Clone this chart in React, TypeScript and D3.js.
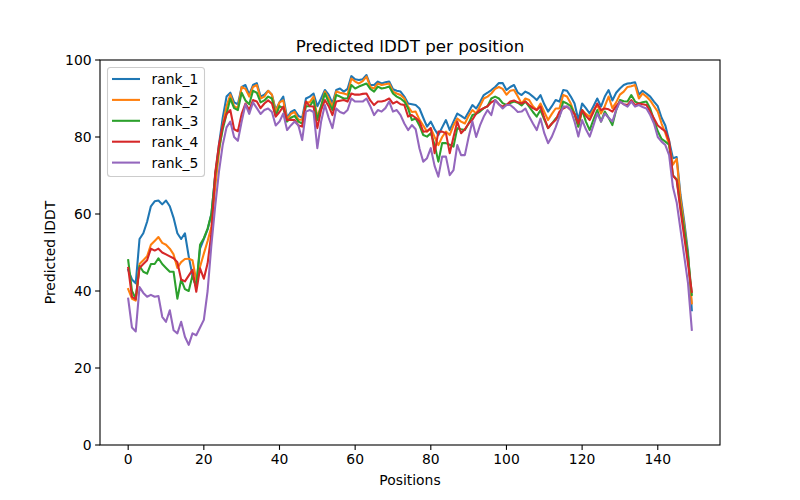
import React from "react";
import * as d3 from "d3";

const seriesNames = ["rank_1", "rank_2", "rank_3", "rank_4", "rank_5"];
const colors = ["#1f77b4", "#ff7f0e", "#2ca02c", "#d62728", "#9467bd"];

const rank1 = [45.5,43,42,53.5,55,58,62,63.3,63.5,62.5,63.5,62,59,55,53.5,55,49,44,41,51,
53.5,56,60,70,78,85,90.5,91.5,89,88.5,93,93.5,91,93.5,94,90.5,91,92,91,87,
89,90.5,85,86.5,87,85.5,85,90,90.5,91.3,88,90,92.2,91,88.7,92.2,92.6,91.8,92.5,95.8,
95,94.8,95,96.1,93.5,93.5,94.4,93.9,94.2,94.4,92.4,92,91.8,90.5,88.7,88.5,88.3,87.4,85,82.7,
84,82,80.5,82.5,84.4,81.8,84,86.1,85.5,84.8,86.5,88.3,87.4,89,90.9,91.5,92.2,93,94,94,
92.2,93,93.5,91.5,90.9,91.8,91.3,90.5,89.6,90.9,88.5,86.6,88,89.6,89.2,92.2,92,90.5,88.7,84.4,
88.7,87.5,86.1,88,90,87.9,90.5,92.2,89.5,91.5,92.6,93.5,93.9,94,94.2,91,92,91.3,90.5,89.2,
88,85,83,79,74.5,74.8,65,58,50,35];

const rank2 = [40.5,38,37.5,47,48,49,52,53,54,52.5,52,51,49.5,46,47.5,48.3,48.4,48,42.8,46.3,
49.7,53,56.7,67,76,83,88,91,88,87.5,93,92.5,90.5,93,93.5,90,90.5,92,91,86.5,
89,89.5,84.5,86,86.5,84.5,84.5,89,89,90.5,85.3,88,91.8,90,87.9,91.8,91.5,91.3,91,95.2,
94.4,93.9,94.5,95.7,93,92.6,93.9,93.5,93.7,93.9,91.8,91.3,90.9,90,87.9,86.5,86.6,84.5,83,81.4,
82.3,80,77.9,80,81.4,80.5,83,84.8,84,83.5,85.5,87,86.1,88,90,90.5,91.3,92.5,93,92.5,
91,92,92.2,90.5,88.7,90,89.6,88,87,88.7,86.5,84.4,86,87.4,87.4,90.9,90.5,88.7,86,82.7,
87,86,85.3,87,88.3,86.1,88,90.5,87.5,89,91,91.8,93,93.2,93.5,90,91.3,90.5,89.5,88,
86.6,83.5,81,78,72.8,74.3,64,57,49,36.8];

const rank3 = [48,40,38,46.5,45,44.5,47,47,48.5,47,46,45,45,38,43,40.5,40,44,41,52,
53.7,56.2,60,70,77,82,86,90,87.5,87,91.5,89.5,88.5,92,91.5,89,89.5,90.5,90,85.5,
88,87.5,84,85,85.5,84,83.5,88,88,89.5,84.4,88,91.3,89,87,90.9,90.5,90,90,93.5,
92.6,93.1,93.5,93.9,92.5,91.8,93.1,92.6,92.8,93.1,91.3,90.5,90,89.2,87.4,84.4,84.8,83,80.5,80.1,
81,78,73.6,78.4,78.4,78,77.5,82.3,82,81.8,83.5,85.7,86,86.6,87.5,88,90,90.5,90,88.8,
88.3,88.8,89.2,88.9,88.2,89.2,87.9,86.5,85.3,87,84.5,82.3,83.5,84.8,85.3,89.2,88.7,88,86,82.7,
87,84,81.8,84.5,87,84,86.6,85,83.1,87,89.6,89.3,89.2,90.9,89.2,88.7,89,89.2,87.4,84.4,
81.5,79.5,78.8,78,70,69,62,56,49,39];

const rank4 = [46,38.5,37.9,46,47,48,51,50.5,51,50,49.5,49,48.5,47.5,43,42.5,44,45.5,39.8,45.9,
43.2,47.2,55,70.6,78,83,86,87,82,81.5,86,88.7,87,89.6,89.2,87.5,88.7,89.5,88.7,85.3,
86.5,87.9,84.4,84.5,84.4,83,82.7,89.2,88,87.9,82.3,87,89.6,88,85.7,89.2,89.4,89.6,89.2,91.3,
91,91,91.2,91.3,89.5,88.3,89.2,89.2,89.5,90,88.7,89.2,88.5,88.3,85.3,85.7,85,84,81.4,81.5,
82.3,75.8,81.4,81.4,81,75.8,80,84,81,82,83.5,84.5,86.1,87,87.5,88,89,89.6,88.5,87.9,
88.3,89.2,89.5,89,88.7,89.2,88.3,87.5,87,87.9,85,82.3,83.5,84.4,86.6,87.4,87.9,87,86,83.5,
87,85.5,84.4,86.5,88.7,87,87.4,87.2,86.6,88,89.2,88.5,88.3,89.6,88.3,88.7,88.5,88.3,86.6,84.8,
83,82.2,81.5,79,70,68.8,61,54,47,39.8];

const rank5 = [38,30.5,29.5,41,39.5,38.5,39,38.5,38.7,33.3,32,35,29.8,29,32,28.1,26,29,28.5,30.5,
32.5,40,52,62,71,78,82.5,84,80,79,84,88.5,86,89,87.5,86,87,87.4,86.5,83,
84,86.1,81.8,83,84,83,79.2,86.6,87,86.5,77.1,84,88.3,85,82.3,87.4,86.5,86.1,87,90,
89.2,89.2,89.2,90,88,85.7,87,86.6,87.5,89.2,86.6,87,85.7,83.5,81.8,83.1,82,77,73.6,74.5,
77.1,72.5,69.7,74.9,74.9,70.1,71.4,77.9,75.3,75.3,80,84,80,83,85.3,87,85.7,89.6,88.5,87.4,
88.3,88.3,87.5,86.5,86.6,87.4,85.3,83.5,81.8,84.8,81,78.4,80.1,82.5,85.3,87.9,87.9,87,84,80.1,
84.4,82,80.1,83,86.1,84,86.1,85,84,87,89.2,88.5,87.9,89.2,87.9,88.3,87.8,87.4,85.7,83.5,
80,78.8,77.9,75.3,67,63,56,49,42,29.9];

const seriesValues = [rank1, rank2, rank3, rank4, rank5];
const xTicks = [0, 20, 40, 60, 80, 100, 120, 140];
const yTicks = [0, 20, 40, 60, 80, 100];

const W = 800, H = 500;
const L = 100, R = 720, T = 60, B = 445;
const FONT = "DejaVu Sans, sans-serif";

export default function App() {
  const n = rank1.length;
  const x = d3.scaleLinear().domain([-(n - 1) * 0.05, (n - 1) * 1.05]).range([L, R]);
  const y = d3.scaleLinear().domain([0, 100]).range([B, T]);
  const line = d3.line<number>().x((_, i) => x(i)).y((v) => y(v));

  const legX = 107.5, legY = 67.5, legW = 97, legH = 109;
  return (
    <svg width={W} height={H} style={{ position: "absolute", left: 0, top: 0, background: "#fff" }} fontFamily={FONT}>
      <rect x={0} y={0} width={W} height={H} fill="#fff" />
      <defs>
        <clipPath id="plot"><rect x={L} y={T} width={R - L} height={B - T} /></clipPath>
      </defs>
      <g clipPath="url(#plot)">
        {seriesValues.map((vals, k) => (
          <path key={k} d={line(vals) || ""} fill="none" stroke={colors[k]} strokeWidth={2.08} strokeLinejoin="round" strokeLinecap="square" />
        ))}
      </g>
      <rect x={L} y={T} width={R - L} height={B - T} fill="none" stroke="#000" strokeWidth={1.1} />
      {xTicks.map((t) => (
        <g key={"x" + t}>
          <line x1={x(t)} x2={x(t)} y1={B} y2={B + 4.9} stroke="#000" strokeWidth={1.1} />
          <text x={x(t)} y={B + 19} fontSize={13.9} textAnchor="middle">{t}</text>
        </g>
      ))}
      {yTicks.map((t) => (
        <g key={"y" + t}>
          <line x1={L - 4.9} x2={L} y1={y(t)} y2={y(t)} stroke="#000" strokeWidth={1.1} />
          <text x={L - 8.4} y={y(t) + 5} fontSize={13.9} textAnchor="end">{t}</text>
        </g>
      ))}
      <text x={(L + R) / 2} y={T - 8.5} fontSize={16.7} textAnchor="middle">Predicted lDDT per position</text>
      <text x={(L + R) / 2} y={485} fontSize={13.9} textAnchor="middle">Positions</text>
      <text transform={`translate(55,${(T + B) / 2}) rotate(-90)`} fontSize={13.9} textAnchor="middle">Predicted lDDT</text>
      <rect x={legX} y={legY} width={legW} height={legH} rx={3} fill="#fff" fillOpacity={0.8} stroke="#cccccc" strokeWidth={1.1} />
      {seriesNames.map((name, k) => (
        <g key={name}>
          <line x1={112} x2={140} y1={79 + k * 20.9} y2={79 + k * 20.9} stroke={colors[k]} strokeWidth={2.08} />
          <text x={151.5} y={79 + k * 20.9 + 5} fontSize={13.9}>{name}</text>
        </g>
      ))}
    </svg>
  );
}
